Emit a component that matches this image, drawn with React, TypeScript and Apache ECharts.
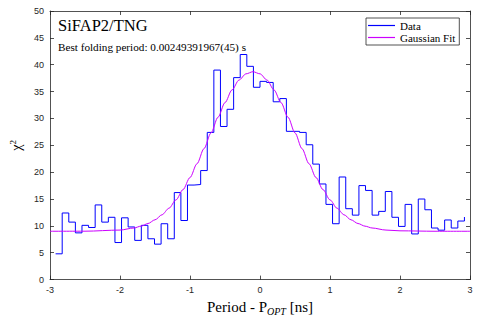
import React, { useEffect, useRef } from "react";
import * as echarts from "echarts";

// Step (stairs) data: period offsets start and bin width, chi^2 values per bin
const periodStart = -2.92;
const binWidth = 0.0942;
const chi2Values = [
  4.8, 12.4, 10.7, 8.7, 10.1, 9.7, 13.9, 10.7, 11.6, 6.9,
  11.5, 9.8, 7.3, 10.1, 7.6, 6.6, 10.4, 7.6, 16.2, 11.0,
  17.6, 17.7, 20.3, 27.4, 39.0, 28.5, 31.7, 37.6, 41.9, 39.7,
  35.8, 36.9, 36.7, 33.1, 33.7, 27.6, 27.6, 27.4, 25.1, 21.5,
  17.8, 14.0, 10.4, 19.1, 13.2, 12.0, 17.5, 16.6, 12.0, 12.7,
  16.4, 11.6, 9.9, 14.0, 8.5, 15.0, 13.0, 9.6, 9.2, 11.1,
  9.6, 10.9, 11.65,
];

// Gaussian fit curve
const fitX = [
  -3.0, -2.5, -2.0, -1.8, -1.7, -1.6, -1.5, -1.4, -1.3, -1.2, -1.1, -1.0,
  -0.9, -0.8, -0.7, -0.6, -0.5, -0.4, -0.3, -0.2, -0.1, 0.0, 0.1, 0.2,
  0.3, 0.4, 0.5, 0.6, 0.7, 0.8, 0.9, 1.0, 1.1, 1.2, 1.3, 1.4, 1.5, 1.6,
  1.8, 2.0, 2.5, 3.0,
];
const fitY = [
  9.0, 9.01, 9.22, 9.61, 9.95, 10.44, 11.13, 12.07, 13.29, 14.84, 16.75, 19.0,
  21.57, 24.38, 27.31, 30.22, 32.95, 35.31, 37.15, 38.3, 38.7, 38.3, 37.15, 35.31,
  32.95, 30.22, 27.31, 24.38, 21.57, 19.0, 16.75, 14.84, 13.29, 12.07, 11.13, 10.44, 9.95, 9.61,
  9.22, 9.08, 9.0, 9.0,
];

const xTicks = { min: -3, max: 3, interval: 1 };
const yTicks = { min: 0, max: 50, interval: 5 };

const titleText = "SiFAP2/TNG";
const subtitleText = "Best folding period: 0.00249391967(45) s";
const seriesNames = ["Data", "Gaussian Fit"];
const seriesColors = ["#0000ff", "#cc00ff"];

const AXIS = "#262626";
const SERIF = "'Liberation Serif', 'Times New Roman', serif";
const SANS = "'Liberation Sans', Arial, sans-serif";

export default function App() {
  const ref = useRef<HTMLDivElement>(null);
  useEffect(() => {
    if (!ref.current) return;
    const chart = echarts.init(ref.current, undefined, { renderer: "svg" });
    const stepData = chi2Values.map((v, i) => [periodStart + i * binWidth, v]);
    const fitData = fitX.map((x, i) => [x, fitY[i]]);
    const axisLine = { show: true, onZero: false, lineStyle: { color: AXIS, width: 0.8 } };
    const tick = { show: true, inside: true, length: 4, lineStyle: { color: AXIS, width: 0.8 } };
    chart.setOption({
      animation: false,
      backgroundColor: "#fff",
      grid: { left: 46.5, right: 16, top: 11, bottom: 37.5, containLabel: false },
      xAxis: [
        {
          type: "value",
          ...xTicks,
          position: "bottom",
          axisLine,
          axisTick: tick,
          splitLine: { show: false },
          axisLabel: { color: AXIS, fontSize: 9, fontFamily: SANS, margin: 6 },
          name: "{a|Period - P}{s|OPT}{a| [ns]}",
          nameLocation: "middle",
          nameGap: 18,
          nameTextStyle: {
            rich: {
              a: { fontFamily: SERIF, fontSize: 15, color: "#000", lineHeight: 18 },
              s: { fontFamily: SERIF, fontSize: 10, fontStyle: "italic", color: "#000", lineHeight: 18, verticalAlign: "bottom" },
            },
          },
        },
        {
          type: "value",
          ...xTicks,
          position: "top",
          axisLine,
          axisTick: tick,
          splitLine: { show: false },
          axisLabel: { show: false },
        },
      ],
      yAxis: [
        {
          type: "value",
          ...yTicks,
          position: "left",
          axisLine,
          axisTick: tick,
          splitLine: { show: false },
          axisLabel: { color: AXIS, fontSize: 9, fontFamily: SANS, margin: 6 },
          name: "{a|χ}{p|2}",
          nameLocation: "middle",
          nameGap: 26,
          nameRotate: 90,
          nameTextStyle: {
            rich: {
              a: { fontFamily: SERIF, fontSize: 14, color: "#000", lineHeight: 16 },
              p: { fontFamily: SERIF, fontSize: 9, color: "#000", lineHeight: 16, verticalAlign: "top" },
            },
          },
        },
        {
          type: "value",
          ...yTicks,
          position: "right",
          axisLine,
          axisTick: tick,
          splitLine: { show: false },
          axisLabel: { show: false },
        },
      ],
      legend: {
        left: 366,
        top: 18,
        orient: "vertical",
        icon: "rect",
        itemWidth: 27,
        itemHeight: 1.2,
        itemGap: 1,
        padding: [2, 4, 2, 2],
        borderColor: AXIS,
        borderWidth: 0.8,
        backgroundColor: "#fff",
        textStyle: { fontFamily: SERIF, fontSize: 11, color: "#000", lineHeight: 9 },
        data: seriesNames.map((n, i) => ({ name: n, itemStyle: { color: seriesColors[i] } })),
      },
      series: [
        {
          name: seriesNames[0],
          type: "line",
          step: "end",
          data: stepData,
          symbol: "none",
          color: seriesColors[0],
          lineStyle: { color: seriesColors[0], width: 1 },
          itemStyle: { color: seriesColors[0] },
          z: 3,
        },
        {
          name: seriesNames[1],
          type: "line",
          data: fitData,
          smooth: 0.3,
          smoothMonotone: "x",
          symbol: "none",
          color: seriesColors[1],
          lineStyle: { color: seriesColors[1], width: 1 },
          itemStyle: { color: seriesColors[1] },
          z: 4,
        },
      ],
      graphic: [
        {
          type: "text",
          left: 58,
          top: 17,
          style: { text: titleText, fontFamily: SERIF, fontSize: 16.5, fill: "#000" },
        },
        {
          type: "text",
          left: 58,
          top: 41,
          style: { text: subtitleText, fontFamily: SERIF, fontSize: 11.2, fill: "#000" },
        },
      ],
    });
    return () => chart.dispose();
  }, []);
  return (
    <div
      ref={ref}
      style={{ position: "absolute", left: 0, top: 0, width: 486, height: 321 }}
    />
  );
}
